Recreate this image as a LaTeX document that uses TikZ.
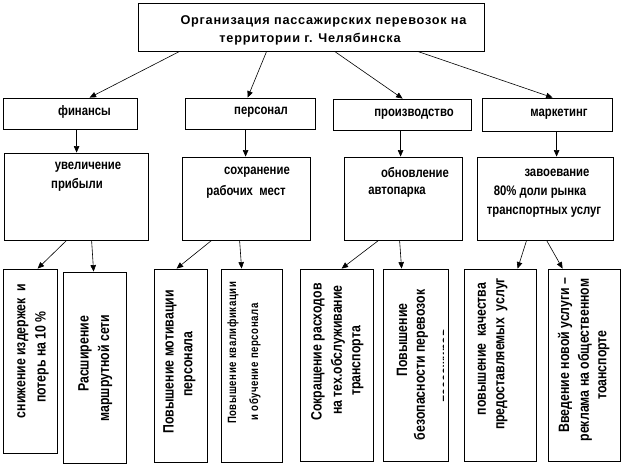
\documentclass[tikz,border=0pt]{standalone}
\usepackage{fontspec}
\setmainfont{Liberation Sans}
\newfontfamily\nf{Liberation Sans}[FakeStretch=0.82]
\newfontfamily\sfn{Liberation Sans}[FakeStretch=0.8,LetterSpace=5]
\newfontfamily\tf{Liberation Sans}[LetterSpace=6]
\usetikzlibrary{arrows.meta}
\begin{document}
\begin{tikzpicture}[x=1pt,y=-1pt,
  box/.style={draw=black,line width=0.8pt,minimum width=#1,inner sep=0pt},
  lbl/.style={inner sep=0pt,font=\nf\bfseries\fontsize{13.8}{15}\selectfont},
  vlbl/.style={inner sep=0pt,rotate=90,font=\nf\bfseries\fontsize{15}{17}\selectfont},
  slbl/.style={inner sep=0pt,rotate=90,font=\sfn\bfseries\fontsize{12}{13}\selectfont},
  ttl/.style={inner sep=0pt,font=\tf\bfseries\fontsize{12.7}{14}\selectfont},
  arr/.style={line width=0.6pt,-{Triangle[length=6.5pt,width=5.5pt]}}]
\useasboundingbox (0,0) rectangle (622,466);
% top
\node[box=346pt,minimum height=48pt] (top) at (311,27) {};
\node[ttl] (t1) at (323.5,21) {Организация пассажирских перевозок на};
\node[ttl] (t2) at (310,39) {территории г. Челябинска};
% level 2
\node[box=134pt,minimum height=31pt] (fin) at (70,113.5) {};
\node[box=130pt,minimum height=31pt] (per) at (250,113.5) {};
\node[box=138pt,minimum height=31pt] (pro) at (402,114.5) {};
\node[box=130pt,minimum height=33pt] (mar) at (547,114.5) {};
\node[lbl] (finl) at (84.5,112) {финансы};
\node[lbl] (perl) at (261,112) {персонал};
\node[lbl] (prol) at (414,114) {производство};
\node[lbl] (marl) at (559,114) {маркетинг};
% level 3
\node[box=144pt,minimum height=87pt] (ua) at (76,196.5) {};
\node[box=128pt,minimum height=83pt] (ub) at (246,198.5) {};
\node[box=118pt,minimum height=83pt] (uc) at (403,198.5) {};
\node[box=136pt,minimum height=83pt] (ud) at (545,198.5) {};
\node[lbl] (ua1) at (88,167) {увеличение};
\node[lbl] (ua2) at (77,185) {прибыли};
\node[lbl] (ub1) at (257,172) {сохранение};
\node[lbl] (ub2) at (246,192) {рабочих \ мест};
\node[lbl] (uc1) at (415,173) {обновление};
\node[lbl] (uc2) at (397,192) {автопарка};
\node[lbl] (ud1) at (557,173) {завоевание};
\node[lbl] (ud2) at (540,192) {80\% доли рынка};
\node[lbl] (ud3) at (544,212) {транспортных услуг};
% level 4
\node[box=54pt,minimum height=184pt] (b1) at (30,361) {};
\node[box=63pt,minimum height=191pt] (b2) at (94.5,367.5) {};
\node[box=53pt,minimum height=193pt] (b3) at (180.5,365.5) {};
\node[box=61pt,minimum height=193pt] (b4) at (251.5,365.5) {};
\node[box=73pt,minimum height=192pt] (b5) at (336.5,365) {};
\node[box=65pt,minimum height=192pt] (b6) at (415.5,365) {};
\node[box=72pt,minimum height=192pt] (b7) at (500,365) {};
\node[box=72pt,minimum height=192pt] (b8) at (584,365) {};
\node[vlbl] (b1a) at (23,351) {снижение издержек \ и};
\node[vlbl] (b1b) at (42,357) {потерь на 10 \%};
\node[vlbl] (b2a) at (85,354) {Расширение};
\node[vlbl] (b2b) at (105,368) {маршрутной сети};
\node[vlbl] (b3a) at (170,362) {Повышение мотивации};
\node[vlbl] (b3b) at (190,364) {персонала};
\node[slbl] (b4a) at (233,353) {Повышение квалификации};
\node[slbl] (b4b) at (255,362) {и обучение персонала};
\node[vlbl] (b5a) at (318,352) {Сокращение расходов};
\node[vlbl] (b5b) at (338,350) {на тех.обслуживание};
\node[vlbl] (b5c) at (358,361) {транспорта};
\node[vlbl] (b6a) at (402,340) {Повышение};
\node[vlbl] (b6b) at (421,365) {безопасности перевозок};
\begin{scope}
\clip (383,269) rectangle (443,461);
\node[vlbl] (b6c) at (448.5,366) {пассажиров};
\end{scope}
\node[vlbl] (b7a) at (482,349) {повышение \ качества};
\node[vlbl] (b7b) at (502,354) {предоставляемых \ услуг};
\node[vlbl] (b8a) at (565,355) {Введение новой услуги –};
\node[vlbl] (b8b) at (585,360) {реклама на общественном};
\node[vlbl] (b8c) at (604,365) {тоанспорте};
% arrows top -> level 2
\draw[arr] ([xshift=42pt]top.south west) -- ([xshift=87pt]fin.north west);
\draw[arr] ([xshift=129pt]top.south west) -- ([xshift=63pt]per.north west);
\draw[arr] ([xshift=197pt]top.south west) -- ([xshift=70pt]pro.north west);
\draw[arr] ([xshift=280pt]top.south west) -- ([xshift=71pt]mar.north west);
% level 2 -> level 3
\draw[arr] ([xshift=74pt]fin.south west) -- ([xshift=73pt]ua.north west);
\draw[arr] ([xshift=61pt]per.south west) -- ([xshift=64pt]ub.north west);
\draw[arr] ([xshift=68pt]pro.south west) -- ([xshift=57pt]uc.north west);
\draw[arr] ([xshift=75pt]mar.south west) -- ([xshift=80pt]ud.north west);
% level 3 -> level 4
\draw[arr] ([xshift=63pt]ua.south west) -- ([xshift=35pt]b1.north west);
\draw[arr] ([xshift=88pt]ua.south west) -- ([xshift=31pt]b2.north west);
\draw[arr] ([xshift=30pt]ub.south west) -- ([xshift=23pt]b3.north west);
\draw[arr] ([xshift=58pt]ub.south west) -- ([xshift=21pt]b4.north west);
\draw[arr] ([xshift=35pt]uc.south west) -- ([xshift=42pt]b5.north west);
\draw[arr] ([xshift=56pt]uc.south west) -- ([xshift=19pt]b6.north west);
\draw[arr] ([xshift=50pt]ud.south west) -- ([xshift=54pt]b7.north west);
\draw[arr] ([xshift=70pt]ud.south west) -- ([xshift=15pt]b8.north west);
\end{tikzpicture}
\end{document}
